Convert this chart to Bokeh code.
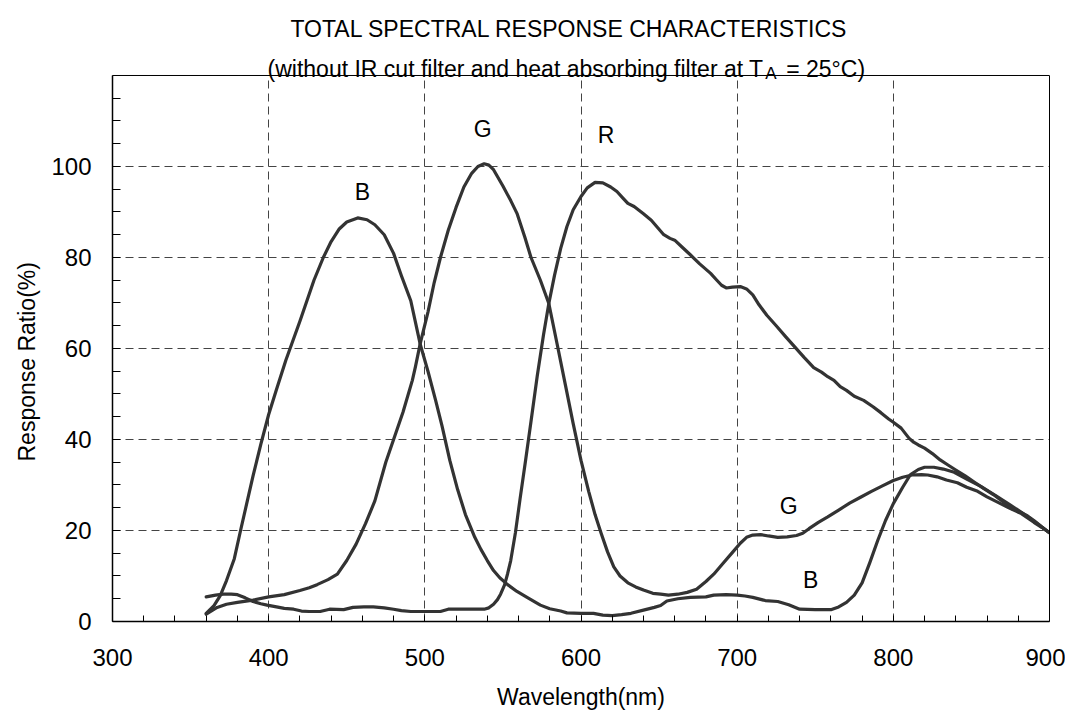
from bokeh.plotting import figure
from bokeh.models import Label, FixedTicker, Range1d, ColumnDataSource, LinearAxis, Span, Grid, Title
from bokeh.core.properties import value
from bokeh.embed import file_html
from bokeh.resources import INLINE

FONT = "Liberation Sans"

# ---------------- data ----------------
b_x = [360, 365, 369, 373, 378, 382, 386, 390, 395, 400, 405, 411, 420, 429, 435, 440, 445, 450,
       457, 463, 468, 474, 480, 485, 491, 497, 502, 507, 511, 516, 521, 526, 532, 536, 540, 544,
       548, 553, 559, 566, 574, 580, 587, 591, 600, 608, 614, 620, 626, 632, 640, 647, 651, 655,
       662, 670, 680, 685, 693, 700, 705, 710, 718, 726, 733, 740, 750, 760, 765, 770, 775, 780,
       785, 790, 795, 800, 806, 811, 816, 820, 826, 832, 839, 847, 856, 865, 874, 882, 891, 900]
b_y = [1.8, 3.5, 5.7, 9.0, 13.8, 20.0, 26.0, 32.0, 39.0, 45.5, 51.0, 57.4, 66.0, 75.0, 80.0, 83.5,
       86.2, 87.8, 88.7, 88.3, 87.2, 85.0, 80.9, 76.0, 70.5, 61.0, 55.0, 48.5, 43.0, 35.4, 29.0,
       23.5, 18.5, 15.8, 13.4, 11.2, 9.6, 8.1, 6.6, 5.2, 3.6, 2.8, 2.3, 1.9, 1.8, 1.8, 1.4, 1.3,
       1.5, 1.8, 2.5, 3.1, 3.5, 4.5, 5.0, 5.3, 5.4, 5.8, 5.9, 5.8, 5.6, 5.3, 4.6, 4.4, 3.7, 2.7,
       2.6, 2.6, 3.2, 4.2, 5.8, 8.5, 13.0, 17.8, 22.2, 25.9, 29.5, 32.3, 33.4, 33.9, 33.9, 33.5,
       32.8, 31.3, 29.7, 27.8, 25.8, 24.0, 21.8, 19.5]

g_x = [360, 367, 373, 380, 390, 400, 410, 420, 426, 431, 438, 444, 450, 456, 462, 468, 475, 480,
       486, 492, 494, 497, 502, 506, 510, 515, 520, 525, 530, 534, 538, 541, 544, 550, 555, 559,
       564, 568, 574, 579.4, 585, 590, 595, 600, 605, 609, 613, 617, 621, 625, 630, 635, 640, 646,
       651, 656, 662, 668, 674, 680, 685, 691, 697, 702, 706, 710, 715, 720, 726, 732, 738, 742,
       746, 752, 758, 765, 772, 779, 786, 793, 800, 806, 812, 818, 822, 828, 834, 841, 847, 854,
       860, 868, 875, 882, 890, 895, 900]
g_y = [1.6, 3.1, 3.8, 4.2, 4.7, 5.4, 5.9, 6.8, 7.4, 8.1, 9.2, 10.4, 13.4, 17.0, 21.5, 26.5, 35.0,
       40.0, 46.0, 53.0, 56.0, 61.0, 68.0, 74.5, 80.0, 86.0, 91.0, 95.5, 98.5, 100.0, 100.6, 100.3,
       99.3, 95.7, 92.5, 89.7, 84.5, 80.0, 75.0, 69.9, 60.5, 52.0, 43.5, 35.4, 28.5, 23.5, 19.3,
       15.3, 12.0, 10.0, 8.5, 7.6, 6.9, 6.2, 6.0, 5.8, 6.0, 6.4, 7.1, 8.8, 10.4, 12.8, 15.2, 17.2,
       18.5, 19.0, 19.1, 18.8, 18.5, 18.6, 18.9, 19.4, 20.4, 21.8, 23.0, 24.5, 26.0, 27.3, 28.6,
       29.8, 31.0, 31.7, 32.2, 32.3, 32.2, 31.8, 31.1, 30.5, 29.5, 28.6, 27.4, 26.0, 24.8, 23.7,
       21.8, 20.7, 19.5]

r_x = [360, 366, 371, 376, 380, 385, 390, 395, 399, 405, 410, 416, 421, 426, 433, 439, 448, 454,
       461, 467, 474, 480, 485, 491, 500, 510, 515, 525, 538, 541, 544, 546.5, 548.5, 551, 553,
       555, 558, 561, 564.5, 568, 572, 576, 579.4, 583, 587, 591, 595, 600, 604, 609, 614, 619,
       623, 627, 630, 634, 640, 645, 649, 653, 657, 660, 665, 670, 676, 683, 687, 690, 693, 697,
       702, 706, 710, 714, 719, 725, 731, 737, 743, 749, 754, 758, 762, 766, 770, 775, 781, 787,
       792, 797, 800, 805, 810, 813, 816, 820, 825, 830, 835, 840, 846, 852, 858, 864, 870, 876,
       881, 886, 890, 895, 900]
r_y = [5.4, 5.8, 6.0, 6.0, 5.9, 5.2, 4.4, 3.9, 3.6, 3.2, 2.9, 2.7, 2.3, 2.2, 2.2, 2.7, 2.6, 3.1,
       3.2, 3.2, 3.0, 2.7, 2.4, 2.2, 2.2, 2.2, 2.7, 2.7, 2.7, 3.0, 3.8, 4.8, 6.0, 8.0, 10.5, 13.4,
       19.5, 27.0, 35.4, 44.0, 54.0, 63.0, 69.9, 76.0, 82.0, 86.8, 90.5, 93.4, 95.3, 96.5, 96.4,
       95.5, 94.5, 93.0, 91.9, 91.2, 89.6, 88.2, 86.6, 85.0, 84.2, 83.8, 82.2, 80.6, 78.6, 76.5,
       75.0, 73.9, 73.3, 73.5, 73.6, 73.1, 71.8, 69.6, 67.3, 65.0, 62.6, 60.3, 58.0, 55.8, 54.8,
       53.8, 53.0, 51.6, 50.8, 49.5, 48.6, 47.2, 45.9, 44.5, 43.8, 42.5, 40.3, 39.4, 38.8, 38.1,
       36.9, 35.5, 34.4, 33.3, 32.0, 30.6, 29.2, 27.9, 26.4, 24.8, 24.1, 23.2, 22.2, 20.8, 19.5]

curve_labels = ["B", "G", "R", "G", "B"]
curve_label_x = [460, 537, 616, 733, 747]
curve_label_y = [94.5, 108.2, 107.0, 25.3, 9.1]

X_MIN, X_MAX = 300, 900
Y_MIN, Y_MAX = 0, 120
x_ticks = [300, 400, 500, 600, 700, 800, 900]
x_minor = [x for x in range(300, 901, 20) if x % 100 != 0]
y_ticks = [0, 20, 40, 60, 80, 100]
y_minor = [y for y in range(5, 121, 5) if y % 20 != 0 or y == 120]
x_grid = [400, 500, 600, 700, 800]
y_grid = [20, 40, 60, 80, 100, 120]

title_text = "TOTAL SPECTRAL RESPONSE CHARACTERISTICS"
subtitle_main = "(without IR cut filter and heat absorbing filter at T"
subtitle_sub = "A"
subtitle_end = "= 25\u00b0C)"
x_label = "Wavelength(nm)"
y_label = "Response Ratio(%)"

# ---------------- figure ----------------
# The frame reaches the top of the canvas so that the two title lines can be
# drawn as labels above the 0..120 plotting box.
p = figure(width=1065, height=712, x_range=Range1d(X_MIN, X_MAX), y_range=Range1d(Y_MIN, 136.48),
           output_backend="svg", toolbar_location=None,
           min_border_left=112, min_border_right=16, min_border_top=0, min_border_bottom=91)
p.background_fill_color = "white"
p.border_fill_color = "white"
p.outline_line_color = None

for ax in (p.xaxis, p.yaxis):
    ax.axis_line_color = "black"
    ax.axis_line_width = 1.5
    ax.major_tick_line_color = "black"
    ax.minor_tick_line_color = "black"
    ax.major_tick_out = 0
    ax.minor_tick_out = 0
    ax.major_label_text_font = FONT
    ax.major_label_text_font_size = "24px"
    ax.major_label_text_color = "black"
    ax.axis_label_text_font = FONT
    ax.axis_label_text_font_size = "23px"
    ax.axis_label_text_font_style = "normal"
    ax.axis_label_text_color = "black"

p.xaxis.ticker = FixedTicker(ticks=x_ticks, minor_ticks=x_minor)
p.yaxis.ticker = FixedTicker(ticks=y_ticks, minor_ticks=y_minor)
p.yaxis.bounds = (Y_MIN, Y_MAX)
p.xaxis.major_tick_in = 6
p.xaxis.minor_tick_in = 6
p.yaxis.major_tick_in = 8
p.yaxis.minor_tick_in = 8
p.xaxis.major_label_standoff = 27
p.yaxis.major_label_standoff = 21
p.xaxis.axis_label_standoff = 15
p.xaxis.axis_label = x_label

# y-axis title: placed as a side title so it can be centred on the 0..120 box
p.add_layout(Title(text=y_label, align="left", offset=160, standoff=17, text_font=FONT,
                   text_font_size="23px", text_font_style="normal", text_color="black"), "left")

# right border of the plotting box
rax = LinearAxis(ticker=FixedTicker(ticks=[]), bounds=(Y_MIN, Y_MAX), axis_line_color="black",
                 axis_line_width=1, major_tick_in=0, major_tick_out=0, minor_tick_in=0,
                 minor_tick_out=0, major_label_text_font_size="0px")
p.add_layout(rax, "right")
# top border of the plotting box
p.add_layout(Span(location=Y_MAX, dimension="width", line_color="black", line_width=1))

GRID_COLOR = "#444444"
GRID_DASH = "8 5"
p.ygrid.ticker = FixedTicker(ticks=y_grid)
p.ygrid.grid_line_color = GRID_COLOR
p.ygrid.grid_line_width = 1
p.ygrid.grid_line_dash = GRID_DASH

if "cross_bounds" in Grid.properties():
    p.xgrid.ticker = FixedTicker(ticks=x_grid)
    p.xgrid.cross_bounds = (Y_MIN, Y_MAX)
    p.xgrid.grid_line_color = GRID_COLOR
    p.xgrid.grid_line_width = 1
    p.xgrid.grid_line_dash = GRID_DASH
else:
    p.xgrid.visible = False
    p.segment(x0=x_grid, y0=[Y_MIN] * len(x_grid), x1=x_grid, y1=[Y_MAX] * len(x_grid),
              line_color=GRID_COLOR, line_width=1, line_dash=GRID_DASH)

line_color = "#333333"
for xs, ys in ((b_x, b_y), (g_x, g_y), (r_x, r_y)):
    p.line(xs, ys, line_width=3.2, line_color=line_color, line_join="round", line_cap="round")

src = ColumnDataSource(dict(x=curve_label_x, y=curve_label_y, t=curve_labels))
p.text(x="x", y="y", text="t", source=src, text_font=value(FONT), text_font_size="23px",
       text_align="center", text_baseline="middle", text_color="black")

# titles, above the plotting box
p.add_layout(Label(x=592.5, y=130.3, text=title_text, text_font=FONT, text_font_size="23px",
                   text_align="center", text_baseline="alphabetic", text_color="black"))
p.add_layout(Label(x=716.9, y=121.5, text=subtitle_main, text_font=FONT, text_font_size="23px",
                   text_align="right", text_baseline="alphabetic", text_color="black"))
p.add_layout(Label(x=718.0, y=120.4, text=subtitle_sub, text_font=FONT, text_font_size="17px",
                   text_align="left", text_baseline="alphabetic", text_color="black"))
p.add_layout(Label(x=731.4, y=121.5, text=subtitle_end, text_font=FONT, text_font_size="23px",
                   text_align="left", text_baseline="alphabetic", text_color="black"))

open("out.html", "w").write(file_html(p, INLINE))
